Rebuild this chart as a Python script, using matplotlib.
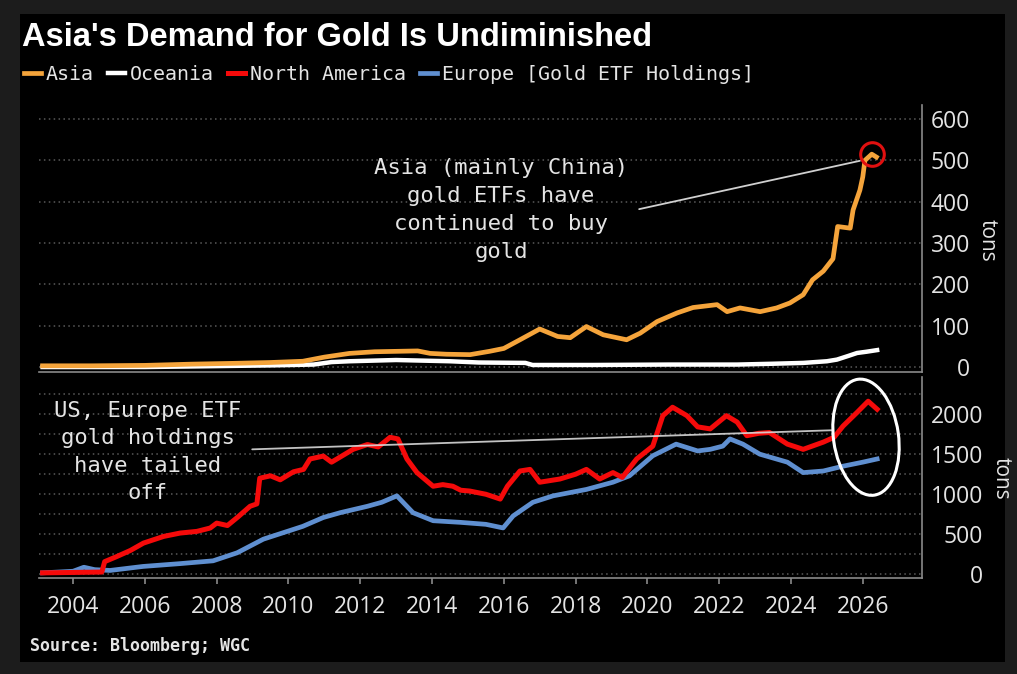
import matplotlib
matplotlib.use('Agg')
import matplotlib.pyplot as plt
from matplotlib import font_manager, transforms as mtransforms
from matplotlib.patches import Rectangle, Ellipse
import numpy as np

available = {f.name for f in font_manager.fontManager.ttflist}
def pick(*names):
    for n in names:
        if n in available:
            return n
    return 'DejaVu Sans'

SANS = pick('Open Sans', 'Noto Sans', 'DejaVu Sans')
MONO = pick('DejaVu Sans Mono', 'Liberation Mono')
TITLEF = pick('Liberation Sans', 'DejaVu Sans')

# ---------------- data ----------------
asia_x = [2003.15, 2004.5, 2006.0, 2007.3, 2008.5, 2009.5, 2010.4, 2011.0, 2011.7, 2012.4,
          2013.0, 2013.6, 2013.95, 2014.4, 2015.06, 2015.6, 2016.0, 2016.45, 2017.0, 2017.5,
          2017.85, 2018.3, 2018.77, 2019.42, 2019.8, 2020.27, 2020.83, 2021.27, 2021.94, 2022.22,
          2022.58, 2023.14, 2023.6, 2023.97, 2024.34, 2024.6, 2024.9, 2025.17, 2025.3, 2025.65,
          2025.73, 2025.92, 2026.0, 2026.06, 2026.25, 2026.38]
asia_y = [3, 3, 4, 7, 9, 11, 14, 24, 33, 37,
          38, 39, 33, 31, 30, 38, 45, 66, 92, 74,
          71, 98, 78, 66, 82, 110, 131, 144, 151, 134,
          143, 134, 143, 155, 175, 211, 232, 262, 340, 336,
          380, 428, 460, 500, 515, 508]

oceania_x = [2003.15, 2006.0, 2007.8, 2009.5, 2010.7, 2011.2, 2011.7, 2013.0, 2014.5, 2015.3,
             2016.6, 2016.8, 2018.5, 2020.6, 2022.5, 2023.5, 2024.34, 2025.0, 2025.28, 2025.6,
             2025.84, 2026.1, 2026.4]
oceania_y = [0, 0, 2, 4, 6, 12, 14, 17, 14, 11,
             10, 5, 5, 6, 6, 8, 10, 14, 18, 27,
             34, 37, 41]

na_x = [2003.15, 2004.0, 2004.8, 2004.88, 2005.2, 2005.6, 2005.96, 2006.52, 2006.98, 2007.45,
        2007.82, 2008.0, 2008.3, 2008.6, 2008.93, 2009.12, 2009.2, 2009.5, 2009.77, 2010.14,
        2010.42, 2010.6, 2010.97, 2011.2, 2011.8, 2012.2, 2012.5, 2012.83, 2013.05, 2013.3,
        2013.58, 2014.03, 2014.3, 2014.58, 2014.8, 2015.05, 2015.5, 2015.9, 2016.1, 2016.45,
        2016.73, 2017.0, 2017.56, 2018.0, 2018.3, 2018.67, 2019.04, 2019.3, 2019.7, 2020.15,
        2020.43, 2020.7, 2021.1, 2021.4, 2021.75, 2022.2, 2022.5, 2022.77, 2023.1, 2023.4,
        2023.9, 2024.34, 2024.9, 2025.2, 2025.45, 2025.84, 2026.15, 2026.4]
na_y = [20, 25, 30, 160, 220, 300, 391, 474, 516, 537,
        579, 640, 610, 720, 850, 880, 1200, 1230, 1180, 1280,
        1310, 1440, 1476, 1400, 1560, 1620, 1590, 1710, 1690, 1440,
        1270, 1100, 1120, 1100, 1050, 1040, 1000, 940, 1100, 1290,
        1310, 1150, 1190, 1250, 1310, 1190, 1270, 1210, 1440, 1600,
        1980, 2085, 1980, 1840, 1815, 1980, 1900, 1730, 1760, 1770,
        1625, 1560, 1650, 1710, 1850, 2020, 2160, 2060]

eu_x = [2003.15, 2004.0, 2004.3, 2004.6, 2005.03, 2005.95, 2006.98, 2007.9, 2008.57, 2009.3,
        2009.85, 2010.4, 2010.97, 2011.44, 2012.2, 2012.6, 2013.02, 2013.47, 2014.03, 2014.78,
        2015.5, 2015.98, 2016.26, 2016.81, 2017.37, 2018.3, 2019.04, 2019.5, 2020.15, 2020.8,
        2021.4, 2021.75, 2022.1, 2022.3, 2022.66, 2023.13, 2023.9, 2024.34, 2024.9, 2025.45,
        2026.0, 2026.4]
eu_y = [20, 40, 90, 60, 50, 100, 135, 170, 270, 440,
        520, 600, 710, 770, 850, 900, 980, 770, 670, 650,
        625, 580, 730, 900, 980, 1060, 1150, 1230, 1480, 1625,
        1540, 1560, 1600, 1690, 1625, 1500, 1400, 1270, 1290, 1350,
        1400, 1440]

year_ticks = list(range(2004, 2027, 2))
top_ticks = [0, 100, 200, 300, 400, 500, 600]
bottom_ticks = [0, 250, 500, 750, 1000, 1250, 1500, 1750, 2000, 2250]
bottom_labels = ['0', '', '500', '', '1000', '', '1500', '', '2000', '']
legend_labels = ['Asia', 'Oceania', 'North America', 'Europe [Gold ETF Holdings]']

C_ASIA = '#f5a43b'
C_OCE = '#ffffff'
C_NA = '#f50a0a'
C_EU = '#5f8fd0'
TXT = '#e4e4e4'
GRID = '#5a5a5a'
SPINE = '#8a8a8a'

W, H = 1017, 674
fig = plt.figure(figsize=(W / 100, H / 100), dpi=100)
fig.patch.set_facecolor('#1c1c1c')
fig.add_artist(Rectangle((20 / W, 1 - 662 / H), (1005 - 20) / W, (662 - 14) / H,
                         transform=fig.transFigure, facecolor='black', edgecolor='none', zorder=-10))

def px_axes(l, t, r, b):
    return fig.add_axes([l / W, 1 - b / H, (r - l) / W, (b - t) / H])

ax1 = px_axes(39, 105, 922, 372)
ax2 = px_axes(39, 377, 922, 577.5)
XLIM = (2003.05, 2027.65)

for ax in (ax1, ax2):
    ax.set_facecolor('black')
    ax.set_xlim(*XLIM)
    for s in ('left', 'top'):
        ax.spines[s].set_visible(False)
    ax.spines['right'].set_color(SPINE)
    ax.spines['bottom'].set_color(SPINE)
    ax.spines['right'].set_linewidth(1.2)
    ax.spines['bottom'].set_linewidth(1.2)
    ax.yaxis.tick_right()
    ax.grid(axis='y', color=GRID, linestyle=(0, (1, 2.2)), linewidth=1.1)
    ax.set_axisbelow(True)

# top panel
ax1.set_ylim(-12, 634)
ax1.set_yticks(top_ticks)
ax1.set_yticklabels([str(t) for t in top_ticks])
ax1.tick_params(axis='y', length=0, pad=34.5, labelsize=16.5, labelcolor=TXT)
for lab in ax1.get_yticklabels():
    lab.set_horizontalalignment('right')
    lab.set_fontfamily(SANS)
ax1.set_xticks([])
l_oce, = ax1.plot(oceania_x, oceania_y, color=C_OCE, lw=3.2, solid_joinstyle='round')
l_asia, = ax1.plot(asia_x, asia_y, color=C_ASIA, lw=3.4, solid_joinstyle='round')
imax = int(np.argmax(asia_y))
ax1.plot([asia_x[imax]], [asia_y[imax]], marker='o', ms=17, mfc='none', mec='#e01010', mew=2.2,
         clip_on=False, zorder=5)
ax1.annotate('', xy=(2025.92, 499), xytext=(2019.77, 382),
             arrowprops=dict(arrowstyle='-', color='#d0d0d0', lw=1.3, shrinkA=0, shrinkB=0))
fig.text(501 / W, 1 - 210 / H, 'Asia (mainly China)\ngold ETFs have\ncontinued to buy\ngold',
         ha='center', va='center', multialignment='center', family=MONO, fontsize=16,
         linespacing=1.5, color=TXT)

# bottom panel
ax2.set_ylim(-38, 2462)
ax2.set_yticks(bottom_ticks)
ax2.set_yticklabels(bottom_labels)
ax2.tick_params(axis='y', length=0, pad=44, labelsize=16.5, labelcolor=TXT)
for lab in ax2.get_yticklabels():
    lab.set_horizontalalignment('right')
    lab.set_fontfamily(SANS)
ax2.set_xticks(year_ticks)
ax2.set_xticklabels([str(y) for y in year_ticks])
ax2.tick_params(axis='x', direction='out', length=4.5, width=1.2, color=SPINE, pad=8,
                labelsize=16.5, labelcolor=TXT)
for lab in ax2.get_xticklabels():
    lab.set_fontfamily(SANS)
l_eu, = ax2.plot(eu_x, eu_y, color=C_EU, lw=3.4, solid_joinstyle='round')
l_na, = ax2.plot(na_x, na_y, color=C_NA, lw=3.6, solid_joinstyle='round')
ax2.annotate('', xy=(2025.14, 1798), xytext=(2008.99, 1560),
             arrowprops=dict(arrowstyle='-', color='#d8d8d8', lw=1.3, alpha=0.9,
                             shrinkA=0, shrinkB=0))
etrans = mtransforms.ScaledTranslation(2026.09, 1711, ax2.transData)
ax2.add_patch(Ellipse((0, 0), 65, 117, angle=8, transform=etrans, fill=False,
                      edgecolor='white', lw=2.2, clip_on=False, zorder=6))
fig.text(148 / W, 1 - 452 / H, 'US, Europe ETF\ngold holdings\nhave tailed\noff',
         ha='center', va='center', multialignment='center', family=MONO, fontsize=16,
         linespacing=1.45, color=TXT)

# units
fig.text(987 / W, 1 - 240 / H, 'tons', rotation=270, ha='center', va='center',
         family=SANS, fontsize=15, color=TXT)
fig.text(1001 / W, 1 - 478 / H, 'tons', rotation=270, ha='center', va='center',
         family=SANS, fontsize=15, color=TXT)

# title, legend, source
fig.text(22 / W, 1 - 37 / H, "Asia's Demand for Gold Is Undiminished", ha='left', va='center',
         family=TITLEF, fontweight='bold', fontsize=23.5, color='white')
fig.legend([l_asia, l_oce, l_na, l_eu], legend_labels, loc='center left',
           bbox_to_anchor=(24 / W, 1 - 74 / H), ncol=4, frameon=False,
           handlelength=0.85, handletextpad=0.25, columnspacing=0.7,
           borderaxespad=0, borderpad=0, prop={'family': MONO, 'size': 14.4},
           labelcolor=TXT)
fig.text(30 / W, 1 - 646 / H, 'Source: Bloomberg; WGC', ha='left', va='center',
         family=MONO, fontweight='bold', fontsize=12, color=TXT)

fig.savefig('out.png', dpi=100, facecolor=fig.get_facecolor())
